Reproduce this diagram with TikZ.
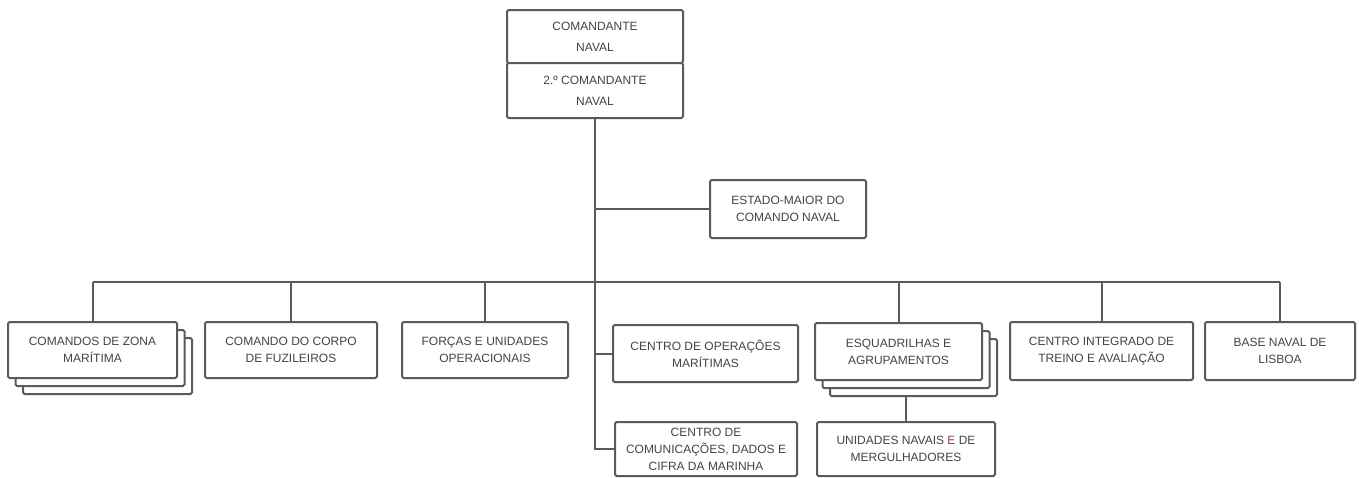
\documentclass[tikz,border=0pt]{standalone}
\usepackage{fontspec}
\setmainfont{Liberation Sans}
\usetikzlibrary{positioning, shadows, backgrounds}
\definecolor{orggrey}{HTML}{5A5A5A}
\definecolor{textgrey}{HTML}{444444}
\definecolor{markred}{HTML}{9B3A4C}

\begin{document}
\begin{tikzpicture}[
  x=1pt, y=-1pt,
  unit/.style={rectangle, rounded corners=1.5pt, draw=orggrey, line width=2pt, fill=white, text=textgrey, font=\fontsize{12}{17}\selectfont, align=center, minimum height=56pt, inner sep=2pt},
  stacked/.style={unit, double copy shadow={shadow xshift=7.5pt, shadow yshift=-8pt, fill=white, draw=orggrey, line width=2pt}},
  link/.style={draw=orggrey, line width=2pt}
]
  \useasboundingbox (0,0) rectangle (1359,477);

  \node[unit, minimum width=176pt, minimum height=53pt, font=\fontsize{12}{21}\selectfont] (cmd) at (595,36.5) {COMANDANTE\\NAVAL};
  \node[unit, minimum width=176pt, minimum height=55pt, font=\fontsize{12}{21}\selectfont, below=-2pt of cmd] (sub) {2.º COMANDANTE\\NAVAL};
  \node[unit, minimum width=156pt, minimum height=58pt] (est) at (788,209) {ESTADO-MAIOR DO\\COMANDO NAVAL};

  \node[stacked, minimum width=169pt] (czm) at (92.5,350) {COMANDOS DE ZONA\\MARÍTIMA};
  \node[unit, minimum width=172pt] (ccf) at (291,350) {COMANDO DO CORPO\\DE FUZILEIROS};
  \node[unit, minimum width=166pt] (fuo) at (485,350) {FORÇAS E UNIDADES\\OPERACIONAIS};
  \node[unit, minimum width=185pt, minimum height=57pt] (cop) at (705.5,353.5) {CENTRO DE OPERAÇÕES\\MARÍTIMAS};
  \node[unit, minimum width=182pt, minimum height=54pt, inner ysep=1pt] (ccd) at (706,449) {CENTRO DE\\COMUNICAÇÕES, DADOS E\\CIFRA DA MARINHA};
  \node[stacked, minimum width=167pt, minimum height=57pt] (esq) at (898.5,351.5) {ESQUADRILHAS E\\AGRUPAMENTOS};
  \node[unit, minimum width=178pt, minimum height=54pt] (unid) at (906,449) {UNIDADES NAVAIS {\color{markred}E} DE\\MERGULHADORES};
  \node[unit, minimum width=183pt, minimum height=58pt] (cit) at (1101.5,351) {CENTRO INTEGRADO DE\\TREINO E AVALIAÇÃO};
  \node[unit, minimum width=150pt, minimum height=58pt] (bnl) at (1280,351) {BASE NAVAL DE\\LISBOA};

  \coordinate (bus) at (595,282);

  \draw[link] (sub.south) |- (ccd.west);
  \draw[link] (sub.south |- est.west) -- (est.west);
  \draw[link] (sub.south |- cop.west) -- (cop.west);
  \draw[link] (czm.north |- bus) -- (bnl.north |- bus);
  \foreach \n in {czm, ccf, fuo, esq, cit, bnl}
    \draw[link] (\n.north) -- (\n.north |- bus);
  \begin{scope}[on background layer]
    \draw[link] (unid.north) -- (unid.north |- esq.south);
  \end{scope}
\end{tikzpicture}
\end{document}
